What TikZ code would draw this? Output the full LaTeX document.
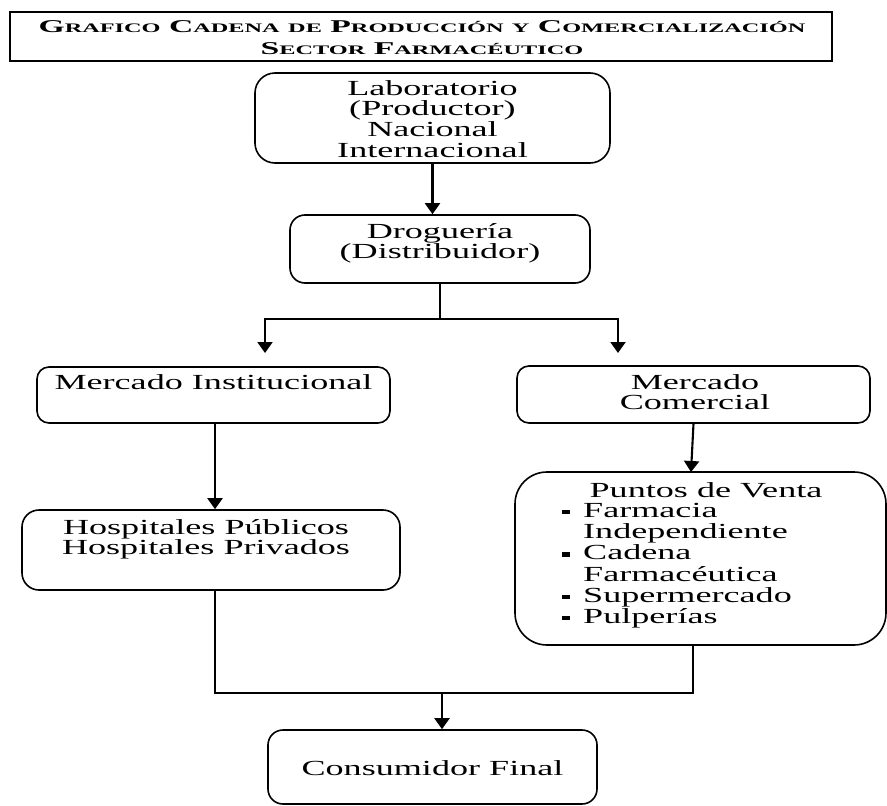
\documentclass[tikz,border=0pt]{standalone}
\usepackage{fontspec}
\setmainfont{Liberation Serif}[FakeStretch=1.68]
\newfontfamily\titlefont{Liberation Serif}[FakeStretch=1.87]
\usetikzlibrary{arrows.meta}

\newcommand{\tcap}[2]{#1{\fontsize{13}{22}\selectfont #2}}
\newcommand{\vineta}{\makebox[21pt][l]{\rule[3pt]{8pt}{4.5pt}}}

\tikzset{
  box/.style={draw, line width=1.6pt, rounded corners=#1, inner sep=0pt},
  box/.default=14pt,
  txt/.style={anchor=north, inner sep=0pt, align=center, font=\fontsize{21.5}{20.8}\selectfont},
  conn/.style={line width=2.1pt},
  arr/.style={line width=2.1pt, -{Triangle[width=15pt,length=11pt]}}
}

\begin{document}
\begin{tikzpicture}[x=1pt, y=-1pt]
\useasboundingbox (0,0) rectangle (887,806);

\draw (421,36.5) node[draw, line width=1.6pt, inner sep=0pt, minimum width=822pt, minimum height=49pt] (tit) {} ;
\draw (422,20.5) node[anchor=north, inner sep=0pt, align=center, font=\titlefont\bfseries\fontsize{18}{22}\selectfont] (tittxt)
  {\tcap{G}{RAFICO} \tcap{C}{ADENA} \tcap{}{DE} \tcap{P}{RODUCCIÓN} \tcap{}{Y} \tcap{C}{OMERCIALIZACIÓN}\\
   \tcap{S}{ECTOR} \tcap{F}{ARMACÉUTICO}} ;

\draw (432.5,118) node[box=20pt, minimum width=355pt, minimum height=90pt] (lab) {} ;
\draw (432.5,80) node[txt] (labtxt) {Laboratorio\\(Productor)\\Nacional\\Internacional} ;

\draw (440,249) node[box=15pt, minimum width=300pt, minimum height=68pt] (drog) {} ;
\draw (440,223) node[txt] (drogtxt) {Droguería\\(Distribuidor)} ;
\draw[arr] (lab.south) to (lab.south |- drog.north) ;

\coordinate (split) at (440,319) ;
\coordinate (instTip) at (265,353) ;
\coordinate (comTip) at (618,353) ;
\draw[conn] (drog.south) to (split) ;
\draw[arr] (split) -| (instTip) ;
\draw[arr] (split) -| (comTip) ;

\draw (213.5,395) node[box=12pt, minimum width=353pt, minimum height=56pt] (minst) {} ;
\draw (213.5,374) node[txt] (minsttxt) {Mercado Institucional} ;

\draw (693.5,394.5) node[box=12pt, minimum width=353pt, minimum height=57pt] (mcom) {} ;
\draw (695,374) node[txt] (mcomtxt) {Mercado\\Comercial} ;

\draw (211,550) node[box=17pt, minimum width=378pt, minimum height=80pt] (hosp) {} ;
\draw (206,519) node[txt] (hosptxt) {Hospitales Públicos\\Hospitales Privados} ;
\draw[arr] ([xshift=1.5pt]minst.south) to ([xshift=1.5pt]minst.south |- hosp.north) ;

\draw (700.5,558.5) node[box=32pt, minimum width=371pt, minimum height=173pt] (pv) {} ;
\draw (706,482) node[txt] (pvtit) {Puntos de Venta} ;
\draw (562,503) node[txt, anchor=north west, align=left, font=\fontsize{21.5}{21.2}\selectfont] (pvlist)
  {\vineta Farmacia\\ \hspace*{21pt}Independiente\\ \vineta Cadena\\ \hspace*{21pt}Farmacéutica\\ \vineta Supermercado\\ \vineta Pulperías} ;
\coordinate (pvTip) at (691,472) ;
\draw[arr] (mcom.south) to (pvTip) ;

\draw (432.5,767) node[box=15pt, minimum width=329pt, minimum height=74pt] (cons) {} ;
\draw (432.5,760) node[txt] (constxt) {Consumidor Final} ;

\coordinate (join) at (442,693) ;
\draw[conn] ([xshift=4pt]hosp.south) |- (join) -| ([xshift=-7.5pt]pv.south) ;
\draw[arr] (join) to (join |- cons.north) ;

\end{tikzpicture}
\end{document}
